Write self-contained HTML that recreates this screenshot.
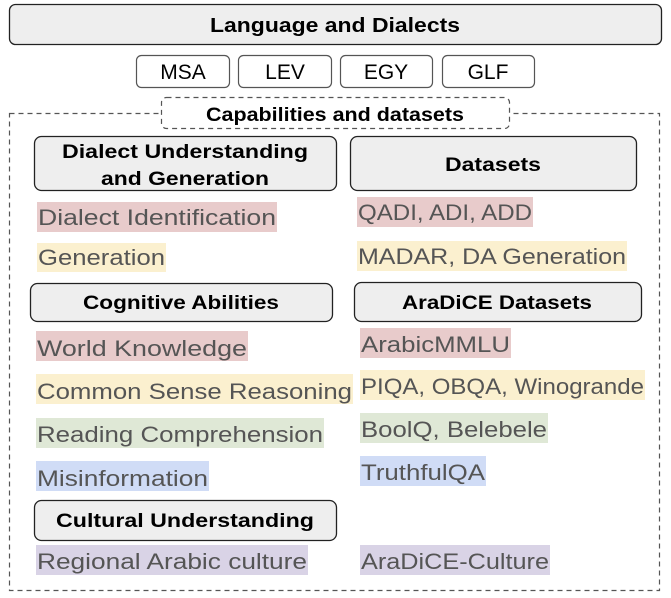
<!DOCTYPE html>
<html><head><meta charset="utf-8"><style>
html,body{margin:0;padding:0;background:#fff;width:671px;height:598px;overflow:hidden}
svg{display:block}
.h{font-family:"Liberation Sans",sans-serif;font-weight:bold;fill:#000}
.t{font-family:"Liberation Sans",sans-serif;font-size:22px;fill:#555}
.d{font-family:"Liberation Sans",sans-serif;font-size:21px;fill:#000}
</style></head><body>
<svg width="671" height="598" viewBox="0 0 671 598">
<rect x="9.5" y="4.5" width="652" height="40" rx="6" fill="#eee" stroke="#222" stroke-width="1.3"/>
<text class="h" x="335" y="32" font-size="20" text-anchor="middle" textLength="250" lengthAdjust="spacingAndGlyphs">Language and Dialects</text>
<g fill="#fff" stroke="#555" stroke-width="1.2">
<rect x="136.5" y="55.5" width="93" height="32" rx="5"/>
<rect x="238.5" y="55.5" width="93" height="32" rx="5"/>
<rect x="340.5" y="55.5" width="92" height="32" rx="5"/>
<rect x="442.5" y="55.5" width="92" height="32" rx="5"/>
</g>
<text class="d" x="183" y="79" text-anchor="middle">MSA</text>
<text class="d" x="285" y="79" text-anchor="middle">LEV</text>
<text class="d" x="386" y="79" text-anchor="middle">EGY</text>
<text class="d" x="488" y="79" text-anchor="middle">GLF</text>
<rect x="9.5" y="113.5" width="650" height="477" fill="none" stroke="#555" stroke-width="1.2" stroke-dasharray="5,4"/>
<rect x="161.5" y="97.5" width="348" height="31" rx="5" fill="#fff" stroke="#555" stroke-width="1.2" stroke-dasharray="5,4"/>
<text class="h" x="335" y="121" font-size="19" text-anchor="middle" textLength="258" lengthAdjust="spacingAndGlyphs">Capabilities and datasets</text>
<g fill="#eee" stroke="#222" stroke-width="1.3">
<rect x="34.5" y="136.5" width="302" height="54" rx="7"/>
<rect x="350.5" y="136.5" width="286" height="54" rx="7"/>
<rect x="30.5" y="283.5" width="302" height="38" rx="7"/>
<rect x="354.5" y="282.5" width="287" height="39" rx="7"/>
<rect x="34.5" y="500.5" width="302" height="40" rx="7"/>
</g>
<g class="h" font-size="19" text-anchor="middle">
<text x="185" y="158" textLength="246" lengthAdjust="spacingAndGlyphs">Dialect Understanding</text>
<text x="185" y="185" textLength="168" lengthAdjust="spacingAndGlyphs">and Generation</text>
<text x="493" y="171" textLength="96" lengthAdjust="spacingAndGlyphs">Datasets</text>
<text x="181" y="309" textLength="196" lengthAdjust="spacingAndGlyphs">Cognitive Abilities</text>
<text x="497" y="309" textLength="190" lengthAdjust="spacingAndGlyphs">AraDiCE Datasets</text>
<text x="185" y="527" textLength="258" lengthAdjust="spacingAndGlyphs">Cultural Understanding</text>
</g>
<g>
<rect x="37" y="202" width="240" height="30" fill="#e8cbcb"/>
<rect x="37" y="243" width="129" height="29" fill="#fbf0cf"/>
<rect x="357" y="197" width="176" height="30" fill="#e8cbcb"/>
<rect x="357" y="241" width="270" height="30" fill="#fbf0cf"/>
<rect x="36" y="331" width="212" height="30" fill="#e8cbcb"/>
<rect x="36" y="374" width="317" height="30" fill="#fbf0cf"/>
<rect x="36" y="418" width="288" height="30" fill="#dfe8d6"/>
<rect x="36" y="461" width="173" height="30" fill="#d0dcf6"/>
<rect x="360" y="328" width="151" height="30" fill="#e8cbcb"/>
<rect x="360" y="370" width="285" height="30" fill="#fbf0cf"/>
<rect x="360" y="413" width="188" height="30" fill="#dfe8d6"/>
<rect x="360" y="456" width="126" height="30" fill="#d0dcf6"/>
<rect x="36" y="545" width="272" height="30" fill="#d9d3e6"/>
<rect x="360" y="545" width="190" height="30" fill="#d9d3e6"/>
</g>
<g class="t" lengthAdjust="spacingAndGlyphs">
<text x="38" y="225" textLength="238" lengthAdjust="spacingAndGlyphs">Dialect Identification</text>
<text x="38" y="265" textLength="127" lengthAdjust="spacingAndGlyphs">Generation</text>
<text x="358" y="220" textLength="174" lengthAdjust="spacingAndGlyphs">QADI, ADI, ADD</text>
<text x="358" y="264" textLength="268" lengthAdjust="spacingAndGlyphs">MADAR, DA Generation</text>
<text x="37" y="356" textLength="210" lengthAdjust="spacingAndGlyphs">World Knowledge</text>
<text x="37" y="399" textLength="315" lengthAdjust="spacingAndGlyphs">Common Sense Reasoning</text>
<text x="37" y="442" textLength="286" lengthAdjust="spacingAndGlyphs">Reading Comprehension</text>
<text x="37" y="486" textLength="171" lengthAdjust="spacingAndGlyphs">Misinformation</text>
<text x="361" y="352" textLength="149" lengthAdjust="spacingAndGlyphs">ArabicMMLU</text>
<text x="361" y="394" textLength="283" lengthAdjust="spacingAndGlyphs">PIQA, OBQA, Winogrande</text>
<text x="361" y="437" textLength="186" lengthAdjust="spacingAndGlyphs">BoolQ, Belebele</text>
<text x="361" y="480" textLength="124" lengthAdjust="spacingAndGlyphs">TruthfulQA</text>
<text x="37" y="569" textLength="270" lengthAdjust="spacingAndGlyphs">Regional Arabic culture</text>
<text x="361" y="569" textLength="188" lengthAdjust="spacingAndGlyphs">AraDiCE-Culture</text>
</g>
</svg>
</body></html>
